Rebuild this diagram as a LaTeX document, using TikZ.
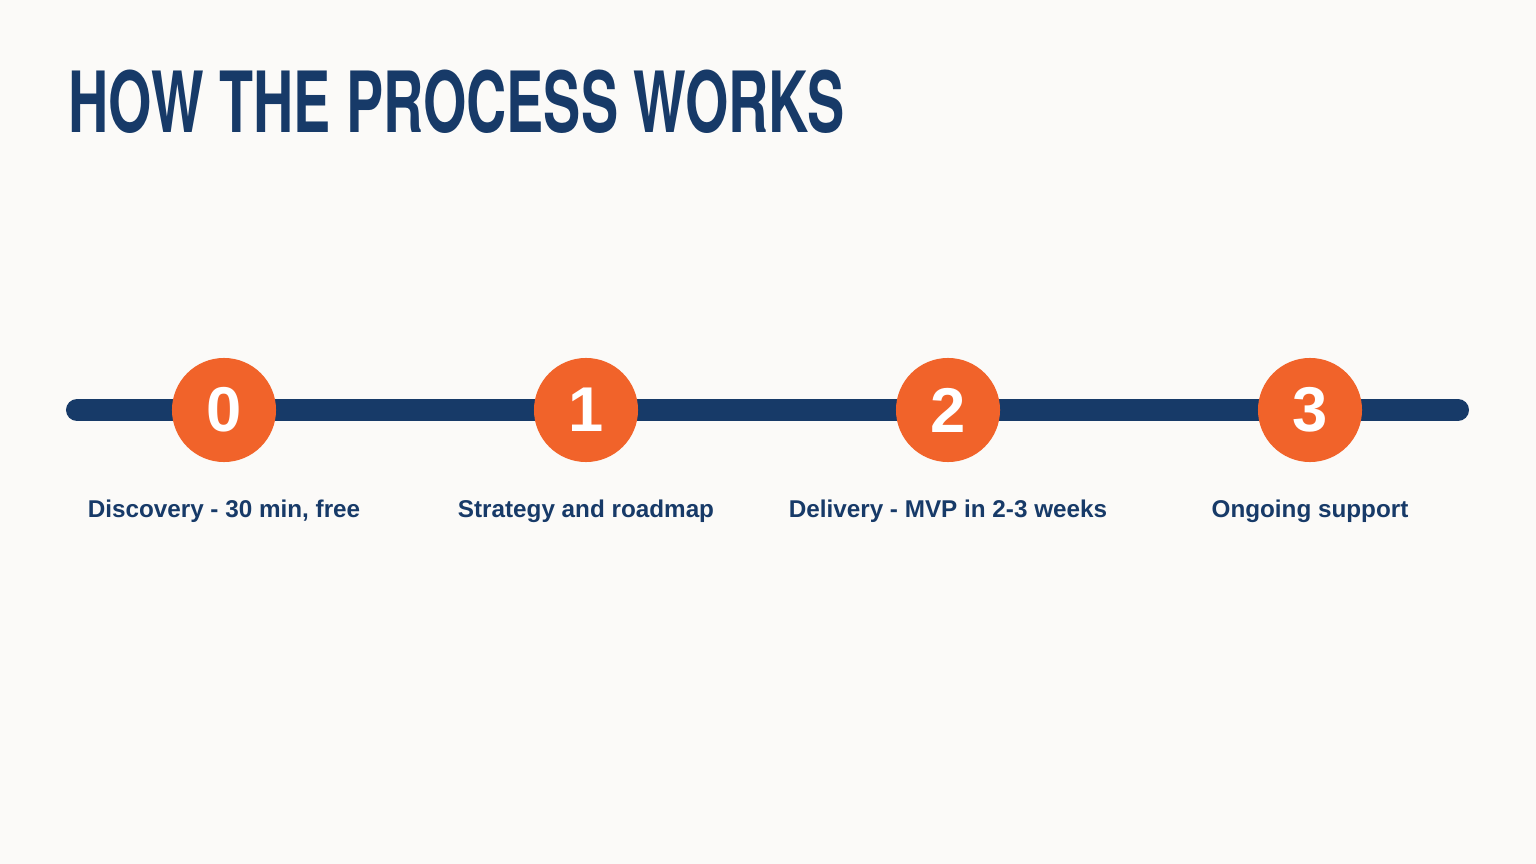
\documentclass[tikz,border=0pt]{standalone}
\usepackage{fontspec}
\setmainfont{Liberation Sans}
\newfontfamily\titlefont[FakeStretch=0.66]{TeX Gyre Heros}
\definecolor{navy}{HTML}{173A68}
\definecolor{procorange}{HTML}{F1632A}
\definecolor{paper}{HTML}{FBFAF8}

\begin{document}
\begin{tikzpicture}[x=0.01cm, y=-0.01cm,
    stepdot/.style={circle, fill=procorange, minimum size=1.04cm, inner sep=0pt,
        text=white, font=\bfseries\fontsize{18}{18}\selectfont},
    steplabel/.style={anchor=base, text=navy, inner sep=0pt,
        font=\bfseries\fontsize{6.9}{8}\selectfont}]
        % page
        \fill[paper] (0,0) rectangle (1536,864);
        \useasboundingbox (0,0) rectangle (1536,864);
        % title
        \node[anchor=base west, inner sep=0pt, text=navy,
            font=\titlefont\bfseries\fontsize{24}{24}\selectfont] (title) at (68,133) {HOW THE PROCESS WORKS};
        % timeline
        \coordinate (lstart) at (77,410);
        \coordinate (lend) at (1458,410);
        \draw[navy, line width=0.22cm, line cap=round] (lstart) -- (lend);
        % steps
        \node[stepdot] (s0) at (224,410) {0};
        \node[stepdot] (s1) at (586,410) {1};
        \node[stepdot] (s2) at (948,410) {2};
        \node[stepdot] (s3) at (1310,410) {3};
        % labels
        \node[steplabel] (l0) at (224,518) {Discovery - 30 min, free};
        \node[steplabel] (l1) at (586,518) {Strategy and roadmap};
        \node[steplabel] (l2) at (948,518) {Delivery - MVP in 2-3 weeks};
        \node[steplabel] (l3) at (1310,518) {Ongoing support};
\end{tikzpicture}
\end{document}
